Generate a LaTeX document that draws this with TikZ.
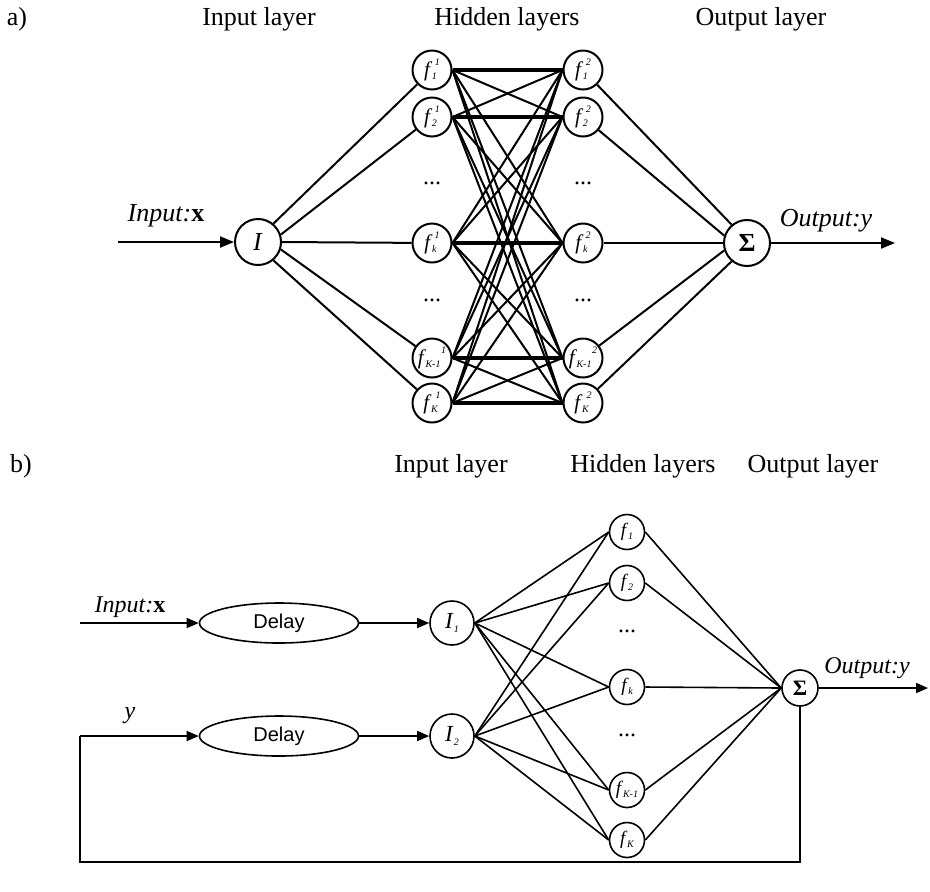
\documentclass[tikz,border=0pt]{standalone}
\usepackage{fontspec}
\setmainfont{Liberation Serif}
\newfontfamily\arialfont{Liberation Sans}
\usetikzlibrary{arrows.meta,shapes.geometric}
\newcommand{\ssz}{\fontsize{5}{6}\selectfont\itshape}
\newcommand{\fa}[2]{\textit{f}\kern-0.3pt\raisebox{-0.25ex}{\ssz #1}\kern-1pt\raisebox{1.15ex}{\ssz #2}}
\newcommand{\fb}[2]{\textit{f}\kern-0.3pt\raisebox{-0.25ex}{\ssz #1}\kern0.3pt\raisebox{1.15ex}{\ssz #2}}
\newcommand{\fc}[1]{\textit{f}\kern-0.2pt\raisebox{-0.3ex}{\ssz #1}}
\begin{document}
\begin{tikzpicture}[x=0.5pt,y=-0.5pt,
  hdr/.style={font=\fontsize{13}{15}\selectfont, inner sep=0},
  lbl/.style={font=\fontsize{13}{15}\selectfont, inner sep=0},
  lblb/.style={font=\fontsize{12}{14}\selectfont, inner sep=0},
  neura/.style={circle, draw, line width=1pt, minimum size=19.5pt, inner sep=0, font=\fontsize{10.5}{12}\selectfont},
  biga/.style={circle, draw, line width=1pt, minimum size=23pt, inner sep=0, font=\fontsize{13}{15}\selectfont},
  neurb/.style={circle, draw, line width=0.8pt, minimum size=17.5pt, inner sep=0, font=\fontsize{9.5}{11}\selectfont},
  bigb/.style={circle, draw, line width=0.8pt, minimum size=22pt, inner sep=0, font=\fontsize{11.5}{13}\selectfont},
  delaybox/.style={ellipse, draw, line width=0.8pt, minimum width=79.5pt, minimum height=20pt, inner sep=0, font=\arialfont\fontsize{10}{12}\selectfont},
  dotsl/.style={inner sep=0, font=\fontsize{12}{14}\selectfont},
  ea/.style={line width=1pt},
  eth/.style={line width=2pt},
  eb/.style={line width=0.8pt},
  arra/.style={line width=1pt, -{Triangle[length=7pt,width=5.5pt]}},
  arrb/.style={line width=0.8pt, -{Triangle[length=6pt,width=5pt]}}
]
\useasboundingbox (0,0) rectangle (930,891);

% ---------------- part a ----------------
\node[hdr] (la) at (17,19) {a)};
\node[hdr] (ha1) at (259,19) {Input layer};
\node[hdr] (ha2) at (507,19) {Hidden layers};
\node[hdr] (ha3) at (761,19) {Output layer};

\node[biga] (I) at (258,242) {\textit{I}};
\node[biga] (S) at (747,243) {\textbf{Σ}};
\coordinate (ina) at (118,242);
\coordinate (outa) at (895,243);
\node[lbl] (tina) at (166,216) {\textit{Input:}\textbf{x}};
\node[lbl] (touta) at (826,221) {\textit{Output:y}};

\node[neura] (a1) at (432,70) {\fa{1}{1}};
\node[neura] (a2) at (432,117) {\fa{2}{1}};
\node[neura] (a3) at (432,243) {\fa{k}{1}};
\node[neura] (a4) at (432,358) {\fb{K-1}{1}};
\node[neura] (a5) at (432,403) {\fa{K}{1}};
\node[neura] (b1) at (583,70) {\fa{1}{2}};
\node[neura] (b2) at (583,117) {\fa{2}{2}};
\node[neura] (b3) at (583,243) {\fa{k}{2}};
\node[neura] (b4) at (583,358) {\fb{K-1}{2}};
\node[neura] (b5) at (583,403) {\fa{K}{2}};
\node[dotsl] (da1) at (432,183) {...};
\node[dotsl] (db1) at (583,183) {...};
\node[dotsl] (da2) at (432,300) {...};
\node[dotsl] (db2) at (583,300) {...};

\draw[arra] (ina) -- (I);
\draw[arra] (S) -- (outa);
\draw[ea] (I.50) -- (a1);
\draw[ea] (I.18) -- (a2);
\draw[ea] (I.east) -- (a3);
\draw[ea] (I.-18) -- (a4);
\draw[ea] (I.-50) -- (a5);
\draw[ea] (b1) -- (S.130);
\draw[ea] (b2) -- (S.162);
\draw[ea] (b3) -- (S.west);
\draw[ea] (b4) -- (S.198);
\draw[ea] (b5) -- (S.230);
\foreach \i in {1,...,5}{
  \foreach \j in {1,...,5}{
    \ifnum\i=\j
      \draw[eth] (a\i.east) -- (b\j.west);
    \else
      \draw[ea] (a\i.east) -- (b\j.west);
    \fi
  }
}

% ---------------- part b ----------------
\node[hdr] (lb) at (21,466) {b)};
\node[hdr] (hb1) at (451,466) {Input layer};
\node[hdr] (hb2) at (643,466) {Hidden layers};
\node[hdr] (hb3) at (813,466) {Output layer};

\coordinate (inb) at (80,623);
\coordinate (yc) at (80,736);
\coordinate (fbr) at (800,862);
\coordinate (fbl) at (80,862);
\coordinate (outb) at (928,688);
\node[delaybox] (D1) at (279,623) {Delay};
\node[delaybox] (D2) at (279,736) {Delay};
\node[bigb] (I1) at (452,623) {\textit{I}\raisebox{-0.3ex}{\ssz 1}};
\node[bigb] (I2) at (452,736) {\textit{I}\raisebox{-0.3ex}{\ssz 2}};
\node[lblb] (tinb) at (130,607) {\textit{Input:}\textbf{x}};
\node[lblb] (ty) at (130,716) {\textit{y}};
\node[lblb] (toutb) at (867,668) {\textit{Output:y}};

\node[neurb] (c1) at (627,532) {\fc{1}};
\node[neurb] (c2) at (627,583) {\fc{2}};
\node[neurb] (c3) at (627,687) {\fc{k}};
\node[neurb] (c4) at (627,790) {\fc{K-1}};
\node[neurb] (c5) at (627,840) {\fc{K}};
\node[dotsl] (dc1) at (627,631) {...};
\node[dotsl] (dc2) at (627,735) {...};
\node[circle, draw, line width=0.8pt, minimum size=18pt, inner sep=0, font=\fontsize{11}{13}\selectfont] (S2) at (800,688) {\textbf{Σ}};

\draw[arrb] (inb) -- (D1);
\draw[arrb] (D1) -- (I1);
\draw[arrb] (yc) -- (D2);
\draw[arrb] (D2) -- (I2);
\draw[arrb] (S2) -- (outb);
\draw[eb] (S2.south) -- (fbr) -- (fbl) -- (yc);
\foreach \i in {1,...,5}{
  \draw[eb] (I1.east) -- (c\i.west);
  \draw[eb] (I2.east) -- (c\i.west);
  \draw[eb] (c\i.east) -- (S2.west);
}
\end{tikzpicture}
\end{document}
